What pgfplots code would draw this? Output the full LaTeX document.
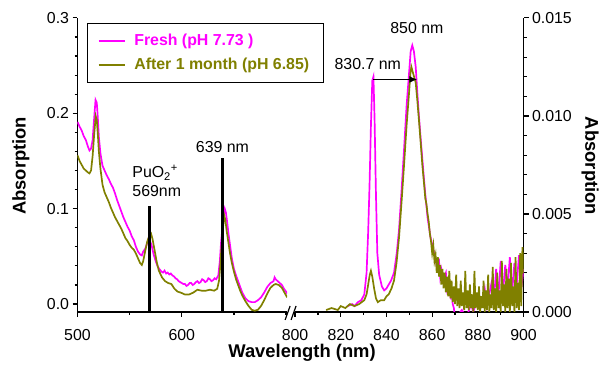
\documentclass[border=0pt]{standalone}
\usepackage{pgfplots}
\pgfplotsset{compat=1.18}
\usetikzlibrary{arrows.meta}
\usepackage{fontspec}
\setmainfont{Liberation Sans}
\definecolor{fresh}{RGB}{255,0,255}
\definecolor{aged}{RGB}{128,128,0}
\begin{document}
\begin{tikzpicture}[x=1pt,y=1pt,font=\fontsize{16}{19}\selectfont]
\path (0,0) rectangle (602,-368);
\pgfplotsset{
  common/.style={
    scale only axis, height=296pt,
    tick align=outside,
    major tick length=5pt, minor tick length=3pt,
    every tick/.style={black, line width=1.2pt},
    axis line style={-, line width=1.8pt},
    every outer x axis line/.append style={-},
    every outer y axis line/.append style={-},
    tick label style={font=\fontsize{16}{19}\selectfont},
    /pgf/number format/assume math mode=true,
    scaled ticks=false,
    xticklabel style={yshift=-9pt},
  }
}
% ---------------- left panel ----------------
\begin{axis}[common, at={(78pt,-314pt)}, anchor=south west, width=211pt,
  xmin=500, xmax=701, ymin=-0.0083, ymax=0.3,
  axis x line*=bottom, axis y line*=left,
  xtick={500,600}, minor xtick={550,650,700},
  ytick={0,0.1,0.2,0.3}, minor y tick num=4,
  yticklabel style={/pgf/number format/.cd, fixed, fixed zerofill, precision=1},
  legend style={at={(rel axis cs:0.043,0.983)}, anchor=north west,
    draw=black, line width=0.8pt, font=\bfseries\fontsize{16}{19}\selectfont,
    inner xsep=6pt, inner ysep=9pt, row sep=7pt},
  legend cell align=left,
  legend image code/.code={\draw[#1, line width=1.8pt] (0pt,0pt) -- (26pt,0pt); \path (-5pt,0pt) (33pt,0pt);},
]
\addplot[fresh, line width=1.7pt] coordinates {
(500,0.191)(502,0.186)(504,0.182)(506,0.176)(508,0.172)(510,0.165)(511.5,0.161)(513,0.163)(514.5,0.172)(516,0.195)(517.3,0.214)(518.5,0.211)(519.5,0.195)(520.5,0.175)(522,0.158)(524,0.145)(526,0.140)(528,0.135)(530,0.131)(532,0.126)(534,0.122)(536,0.116)(538,0.109)(540,0.103)(542,0.097)(544,0.091)(546,0.086)(548,0.081)(550,0.077)(552,0.071)(554,0.067)(556,0.060)(558,0.055)(560,0.052)(561.7,0.051)(563,0.055)(565,0.058)(566.5,0.063)(568,0.068)(569.5,0.066)(571,0.062)(573,0.052)(575,0.045)(577,0.039)(579,0.036)(580.5,0.034)(582,0.033)(583.5,0.035)(585,0.032)(586.5,0.033)(588,0.031)(589.5,0.032)(591,0.030)(592.5,0.029)(594,0.027)(595.5,0.026)(597,0.024)(598.5,0.023)(600,0.022)(601.5,0.021)(603,0.021)(604.5,0.019)(606,0.020)(607.5,0.022)(609,0.022)(610.5,0.020)(612,0.021)(613.5,0.023)(615,0.024)(616.5,0.022)(618,0.023)(619.5,0.026)(621,0.025)(622.5,0.023)(624,0.024)(625.5,0.027)(627,0.026)(628.5,0.024)(630,0.025)(631.5,0.027)(633,0.026)(635,0.030)(636.5,0.045)(637.7,0.065)(639,0.080)(640.3,0.095)(641.2,0.100)(642.3,0.096)(643.5,0.086)(645,0.072)(646.5,0.060)(648,0.048)(650,0.037)(652,0.030)(654,0.024)(656,0.018)(658,0.012)(661,0.006)(664,0.003)(667,0.002)(670,0.002)(673,0.004)(676,0.007)(679,0.012)(682,0.018)(685,0.022)(688,0.024)(689,0.028)(690,0.026)(692,0.024)(694,0.022)(696,0.020)(698,0.016)(700,0.013)(701,0.011)
};
\addlegendentry{\textcolor{fresh}{Fresh (pH 7.73 )}\hspace*{6pt}}
\addplot[aged, line width=1.7pt] coordinates {
(500,0.156)(502,0.150)(504,0.146)(506,0.142)(508,0.140)(510,0.138)(511.5,0.137)(513,0.140)(514.5,0.155)(516,0.178)(517.5,0.197)(518.5,0.193)(519.5,0.178)(520.5,0.160)(522,0.142)(524,0.125)(526,0.117)(528,0.112)(530,0.107)(532,0.101)(534,0.096)(536,0.091)(538,0.087)(540,0.083)(542,0.079)(544,0.074)(546,0.069)(548,0.066)(550,0.062)(552,0.059)(554,0.057)(556,0.053)(558,0.048)(560,0.043)(561.7,0.041)(563,0.045)(565,0.056)(567,0.066)(569,0.072)(570.5,0.074)(572,0.068)(574,0.056)(576,0.044)(578,0.035)(581,0.028)(584,0.024)(587,0.022)(590,0.021)(593,0.016)(596,0.013)(599,0.012)(603,0.010)(607,0.010)(611,0.012)(615,0.015)(619,0.014)(623,0.014)(627,0.015)(631,0.014)(634,0.016)(635.8,0.025)(637,0.042)(638.2,0.062)(639.5,0.080)(640.7,0.093)(641.8,0.088)(643,0.077)(644.5,0.066)(646,0.055)(648,0.043)(650,0.034)(652,0.026)(654,0.020)(656,0.014)(658,0.009)(661,0.003)(664,-0.002)(667,-0.006)(670,-0.007)(673,-0.006)(676,-0.002)(679,0.004)(682,0.011)(685,0.017)(688,0.020)(690,0.021)(693,0.020)(696,0.017)(699,0.011)(701,0.007)
};
\addlegendentry{\textcolor{aged}{After 1 month (pH 6.85)}\hspace*{6pt}}
\addplot[draw=black, line width=2.2pt, forget plot] coordinates {(569,-0.0083) (569,0.103)};
\addplot[draw=black, line width=2.2pt, forget plot] coordinates {(639,-0.0083) (639,0.153)};
\node[align=left, anchor=south west, inner sep=0pt] at (axis cs:552.5,0.112) {PuO\textsubscript{2}\textsuperscript{+}\\569nm};
\node[anchor=south, inner sep=0pt] at (axis cs:639,0.159) {639 nm};
\end{axis}
% ---------------- right panel ----------------
\begin{axis}[common, at={(297pt,-314pt)}, anchor=south west, width=230pt,
  xmin=800, xmax=900, ymin=0, ymax=0.015,
  axis x line*=bottom, axis y line*=right,
  xtick={800,820,...,900}, minor xtick={810,830,...,890},
  ytick={0,0.005,0.01,0.015}, minor y tick num=4,
  yticklabel style={/pgf/number format/.cd, fixed, fixed zerofill, precision=3},
]
\addplot[fresh, line width=1.7pt] coordinates {
(823,0.0003)(825,0.0004)(826,0.0003)(827.5,0.0005)(829,0.0006)(830.3,0.0009)(831.3,0.0020)(832,0.0041)(832.6,0.0065)(833.2,0.0095)(833.8,0.0118)(834.3,0.0120)(834.8,0.0098)(835.4,0.0060)(836,0.0030)(836.8,0.0019)(838,0.0013)(839,0.0011)(840,0.0012)(841,0.0014)(842,0.0016)(843.3,0.0020)(844.5,0.0030)(845.5,0.0042)(846.5,0.0060)(847.7,0.0083)(848.8,0.0105)(849.9,0.0122)(850.6,0.0133)(851.3,0.0136)(852,0.0133)(852.8,0.0125)(853.5,0.0112)(854.2,0.0100)(855,0.0088)(855.7,0.0078)(856.4,0.0068)(857,0.0060)(858,0.0048)(859.3,0.0038)(860.5,0.0032)(862,0.0024)(863,0.0026)(863.5,0.0018)(864,0.0022)(865,0.0017)(866,0.0020)(866.5,0.0012)(867,0.0015)(868,0.0008)(868.5,0.0010)(869,0.0004)(869.5,0.0002)(870,-0.0003)(871,-0.0002)(873,0.0001)(875,-0.0003)(877,0.0004)(878,0.0000)(880,0.0008)(881,0.0002)(883,0.0012)(884,0.0003)(886,0.0015)(887,0.0005)(888,0.0022)(889,0.0008)(890,0.0026)(891,0.0010)(892,0.0024)(893,0.0012)(894,0.0028)(895,0.0010)(896,0.0025)(897,0.0014)(898,0.0029)(899,0.0012)(900,0.0022)
};
\addplot[aged, line width=1.7pt] coordinates {
(813.6,0.0001)(816,0.0002)(818.7,0.0001)(820,0.0003)(822,0.0002)(824,0.0004)(826,0.0003)(828,0.0004)(830.3,0.0006)(831.3,0.0009)(832,0.0014)(832.7,0.0019)(833.2,0.0021)(833.8,0.0018)(834.6,0.0012)(835.4,0.0007)(836.2,0.0005)(837.5,0.0006)(839,0.0006)(840,0.0008)(841,0.0009)(842.2,0.0012)(843.3,0.0016)(844.4,0.0025)(845.5,0.0038)(846.6,0.0056)(847.7,0.0075)(848.8,0.0095)(849.9,0.0112)(850.5,0.0122)(850.9,0.0125)(851.6,0.0122)(852.8,0.0117)(853.5,0.0108)(854.2,0.0098)(855,0.0086)(855.7,0.0075)(856.4,0.0066)(857,0.0058)
(857.5,0.0055)(858,0.0050)(858.5,0.0046)(859,0.0040)(859.5,0.0036)(860,0.0030)(860.5,0.0034)(861,0.0026)(861.5,0.0029)(862,0.0020)(862.5,0.0028)(863,0.0018)(863.5,0.0024)(864,0.0014)(864.5,0.0022)(865,0.0012)(865.5,0.0020)(866,0.0010)(866.5,0.0018)(867,0.0008)(867.5,0.0021)(868,0.0007)(868.5,0.0016)(869,0.0005)(869.5,0.0013)(870,0.0004)(870.5,0.0019)(871,0.0003)(871.5,0.0012)(872,0.0002)(872.5,0.0016)(873,0.0003)(873.5,0.0010)(874,0.0001)(874.5,0.0021)(875,0.0002)(875.5,0.0011)(876,0.0001)(876.5,0.0014)(877,0.0002)(877.5,0.0009)(878,0.0000)(878.5,0.0021)(879,0.0002)(879.5,0.0010)(880,0.0001)(880.5,0.0013)(881,0.0000)(881.5,0.0008)(882,0.0002)(882.5,0.0016)(883,0.0000)(883.5,0.0011)(884,0.0001)(884.5,0.0019)(885,0.0000)(885.5,0.0009)(886,0.0002)(886.5,0.0023)(887,0.0001)(887.5,0.0012)(888,0.0000)(888.5,0.0020)(889,0.0002)(889.5,0.0011)(890,0.0000)(890.5,0.0026)(891,0.0003)(891.5,0.0014)(892,0.0000)(892.5,0.0022)(893,0.0002)(893.5,0.0017)(894,0.0000)(894.5,0.0025)(895,0.0003)(895.5,0.0013)(896,0.0000)(896.5,0.0028)(897,0.0002)(897.5,0.0015)(898,0.0001)(898.5,0.0030)(899,0.0003)(899.5,0.0033)(900,0.0020)
};
\draw[-{Latex[length=8pt,width=7pt]}, line width=1.5pt] (axis cs:834.3,0.01186) -- (axis cs:853.5,0.01186);
\node[inner sep=0pt] at (axis cs:831.8,0.01265) {830.7 nm};
\node[inner sep=0pt] at (axis cs:853.3,0.0145) {850 nm};
\end{axis}
% axis break marks
\draw[line width=1.2pt] (287,-322) -- (292,-308);
\draw[line width=1.2pt] (293,-322) -- (298,-308);
% axis titles
\node[rotate=90, font=\bfseries\fontsize{18.5}{22}\selectfont] at (21,-167) {Absorption};
\node[rotate=-90, font=\bfseries\fontsize{18.5}{22}\selectfont] at (594,-167) {Absorption};
\node[font=\bfseries\fontsize{18.5}{22}\selectfont] at (304,-355) {Wavelength (nm)};
\end{tikzpicture}
\end{document}
